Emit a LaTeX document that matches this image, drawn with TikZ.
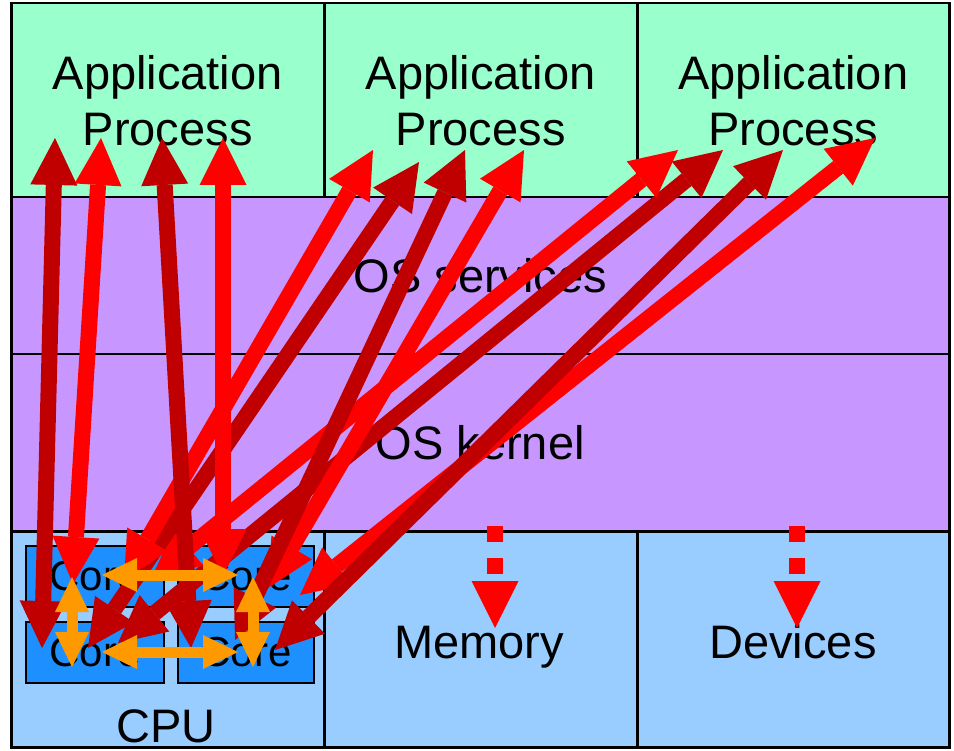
\documentclass[tikz,border=0pt]{standalone}
\usepackage{fontspec}
\setmainfont{Liberation Sans}
\usetikzlibrary{arrows.meta}
\definecolor{appg}{HTML}{99FFCC}
\definecolor{osp}{HTML}{C896FF}
\definecolor{hwb}{HTML}{99CCFF}
\definecolor{coreb}{HTML}{1E8FFF}
\definecolor{dred}{HTML}{C00000}
\definecolor{bred}{HTML}{FF0000}
\definecolor{orng}{HTML}{FF9900}
\begin{document}
\begin{tikzpicture}[x=1pt,y=-1pt,
  cell/.style={draw=black, line width=2.5pt, anchor=north west, inner sep=0pt, align=center,
    font=\fontsize{47}{56}\selectfont},
  label/.style={anchor=base, inner sep=0pt, font=\fontsize{47}{56}\selectfont},
  corebox/.style={draw=black, line width=2pt, fill=coreb, anchor=north west, inner sep=0pt,
    minimum height=61pt, font=\fontsize{42}{50}\selectfont},
  bigtip/.tip={Triangle[length=47pt,width=47pt,line width=0pt]},
  bigarrow/.style={line width=16pt, bigtip-bigtip},
  darrow/.style={bigarrow, draw=dred},
  rarrow/.style={bigarrow, draw=bred},
  smalltip/.tip={Triangle[length=35pt,width=34pt,line width=0pt]},
  oarrow/.style={line width=11pt, draw=orng, smalltip-smalltip},
  dasharrow/.style={line width=16pt, draw=bred, dash pattern=on 16pt off 16pt, -bigtip}
]
\useasboundingbox (0,0) rectangle (954,751);
\fill[white] (0,0) rectangle (954,751);

% layers
\node[cell, fill=appg, minimum width=313pt, minimum height=194pt] (app1) at (10,2) {Application\\Process};
\node[cell, fill=appg, minimum width=313pt, minimum height=194pt] (app2) at (323,2) {Application\\Process};
\node[cell, fill=appg, minimum width=312pt, minimum height=194pt] (app3) at (636,2) {Application\\Process};
\node[cell, fill=osp, minimum width=938pt, minimum height=157pt] (svc) at (10,196) {OS services};
\node[cell, fill=osp, minimum width=938pt, minimum height=177pt] (krn) at (10,353) {OS kernel};
\node[cell, fill=hwb, minimum width=313pt, minimum height=216pt] (cpu) at (10,530) {};
\node[cell, fill=hwb, minimum width=313pt, minimum height=216pt] (mem) at (323,530) {};
\node[cell, fill=hwb, minimum width=312pt, minimum height=216pt] (dev) at (636,530) {};
\node[label] (memlabel) at (479,658) {Memory};
\node[label] (devlabel) at (793,658) {Devices};
\node[label] (cpulabel) at (166,742) {CPU};

% cores
\node[corebox, minimum width=138pt] (c1) at (25,545) {Core};
\node[corebox, minimum width=136pt] (c2) at (177,545) {Core};
\node[corebox, minimum width=138pt] (c3) at (25,621) {Core};
\node[corebox, minimum width=136pt] (c4) at (177,621) {Core};

% arrow end points
\coordinate (p1) at (55,138);   \coordinate (q1) at (42,648);
\coordinate (p2) at (101,138);  \coordinate (q2) at (73,584);
\coordinate (p3) at (162,138);  \coordinate (q3) at (191,648);
\coordinate (p4) at (223,138);  \coordinate (q4) at (223,576);
\coordinate (p5) at (373,150);  \coordinate (q5) at (124,580);
\coordinate (p6) at (419,162);  \coordinate (q6) at (88,648);
\coordinate (p7) at (465,150);  \coordinate (q7) at (235,640);
\coordinate (p8) at (524,150);  \coordinate (q8) at (268,588);
\coordinate (p9) at (678,150);  \coordinate (q9) at (152,577);
\coordinate (p10) at (723,150); \coordinate (q10) at (118,643);
\coordinate (p11) at (783,150); \coordinate (q11) at (275,650);
\coordinate (p12) at (875,138); \coordinate (q12) at (300,595);

\draw[rarrow] (p12) -- (q12);
\draw[darrow] (p11) -- (q11);
\draw[darrow] (p10) -- (q10);
\draw[rarrow] (p9) -- (q9);
\draw[rarrow] (p8) -- (q8);
\draw[darrow] (p7) -- (q7);
\draw[darrow] (p6) -- (q6);
\draw[rarrow] (p5) -- (q5);
\draw[rarrow] (p4) -- (q4);
\draw[darrow] (p3) -- (q3);
\draw[rarrow] (p2) -- (q2);
\draw[darrow] (p1) -- (q1);

% core-to-core arrows
\coordinate (h1a) at (102,575); \coordinate (h1b) at (238,575);
\coordinate (h2a) at (102,652); \coordinate (h2b) at (238,652);
\coordinate (v1a) at (72,577);  \coordinate (v1b) at (72,667);
\coordinate (v2a) at (253,577); \coordinate (v2b) at (253,667);
\draw[oarrow] (h1a) -- (h1b);
\draw[oarrow] (h2a) -- (h2b);
\draw[oarrow] (v1a) -- (v1b);
\draw[oarrow] (v2a) -- (v2b);

% dashed arrows to memory and devices
\coordinate (mt) at (495,526); \coordinate (mb) at (495,628);
\coordinate (dt) at (797,526); \coordinate (db) at (797,628);
\draw[dasharrow] (mt) -- (mb);
\draw[dasharrow] (dt) -- (db);
\end{tikzpicture}
\end{document}
